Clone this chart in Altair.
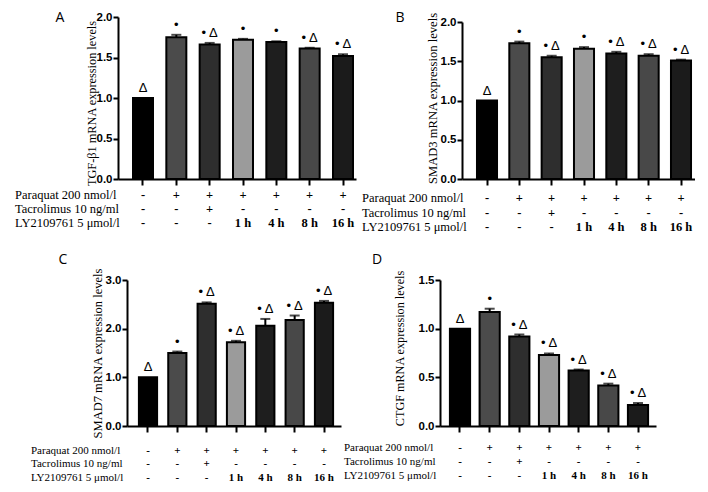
import altair as alt
import pandas as pd

groups = ["g1", "g2", "g3", "g4", "g5", "g6", "g7"]
bar_colors = ["#000000", "#4b4b4b", "#2e2e2e", "#9b9b9b", "#1e1e1e", "#484848", "#1b1b1b"]

row_labels = ["Paraquat 200 nmol/l", "Tacrolimus 10 ng/ml", "LY2109761 5 μmol/l"]
paraquat = ["-", "+", "+", "+", "+", "+", "+"]
tacrolimus = ["-", "-", "+", "-", "-", "-", "-"]
ly = ["-", "-", "-", "1 h", "4 h", "8 h", "16 h"]

# Panel A: TGF-β1
a_vals = [1.00, 1.75, 1.66, 1.72, 1.69, 1.61, 1.52]
a_errs = [0.00, 0.03, 0.02, 0.01, 0.01, 0.01, 0.02]
a_anno = ["Δ", "•", "• Δ", "•", "•", "• Δ", "• Δ"]
# Panel B: SMAD3
b_vals = [1.00, 1.73, 1.55, 1.66, 1.60, 1.57, 1.51]
b_errs = [0.00, 0.02, 0.02, 0.02, 0.02, 0.02, 0.01]
b_anno = ["Δ", "•", "• Δ", "•", "• Δ", "• Δ", "• Δ"]
# Panel C: SMAD7
c_vals = [1.00, 1.50, 2.51, 1.72, 2.06, 2.18, 2.53]
c_errs = [0.00, 0.03, 0.03, 0.03, 0.14, 0.09, 0.04]
c_anno = ["Δ", "•", "• Δ", "• Δ", "• Δ", "• Δ", "• Δ"]
# Panel D: CTGF
d_vals = [1.00, 1.17, 0.92, 0.73, 0.57, 0.415, 0.216]
d_errs = [0.00, 0.035, 0.02, 0.015, 0.01, 0.02, 0.02]
d_anno = ["Δ", "•", "• Δ", "• Δ", "• Δ", "• Δ", "• Δ"]

SERIF = "Liberation Serif"
SANS = "Liberation Sans"


def panel(vals, errs, annos, ymax, ticks, title, letter, L):
    df = pd.DataFrame({"g": groups, "v": vals, "e": errs,
                       "top": [v + e for v, e in zip(vals, errs)],
                       "a": annos, "col": bar_colors,
                       "p": paraquat, "t": tacrolimus, "l": ly})
    ox, oy = L["ox"], L["oy"]
    W, H = L["w"], L["h"]
    CW, CH = ox + W, oy + H
    s = (L["c1"] - L["c0"]) / 6.0
    pi = L["pi"]
    po = (W / s - (7 - pi)) / 2.0
    start = L["c0"] - (1 - pi) * s / 2.0
    align = start / (2 * po * s)
    xs = alt.Scale(domain=groups, paddingInner=pi, paddingOuter=po, align=align,
                   range=[ox, ox + W])
    X = alt.X("g:N", scale=xs, sort=groups,
              axis=alt.Axis(labels=False, title=None, domainColor="black", domainWidth=2,
                            tickColor="black", tickWidth=2, tickSize=6, grid=False))
    ys = alt.Scale(domain=[0, ymax], nice=False, zero=True, range=[CH, oy])
    Y = alt.Y("v:Q", scale=ys,
              axis=alt.Axis(values=ticks, format=".1f", title=title, grid=False,
                            offset=-ox,
                            domainColor="black", domainWidth=2, tickColor="black",
                            tickWidth=2, tickSize=5, labelFont=SANS, labelFontWeight="bold",
                            labelFontSize=11.5, labelColor="black", labelPadding=1,
                            titleFont=SERIF, titleFontSize=L["tfs"], titleFontWeight="normal",
                            titleColor="black", titleX=L["tx"], titleY=oy + L["ty"],
                            titleBaseline="middle", titleAngle=270))
    base = alt.Chart(df)
    xg = alt.X("g:N", sort=groups)
    bars = base.mark_bar(stroke="black", strokeWidth=2).encode(
        x=X, y=Y, color=alt.Color("col:N", scale=None))
    eb = base.transform_filter("datum.e > 0")
    rule = eb.mark_rule(color="black", strokeWidth=2).encode(x=xg, y="v:Q", y2="top:Q")
    cap = eb.mark_tick(color="black", thickness=2, size=10).encode(x=xg, y="top:Q")
    anno = base.mark_text(font=SANS, fontSize=13, dy=-10, color="black").encode(
        x=xg, y="top:Q", text="a:N")
    layers = [bars, rule, cap, anno]
    for field, dy in zip(["p", "t", "l"], L["rows"]):
        layers.append(base.mark_text(font=SERIF, fontSize=L["fs"], fontWeight="bold",
                                     baseline="middle", color="black").encode(
            x=xg, y=alt.value(CH + dy), text=f"{field}:N"))
    for lab, dy in zip(row_labels, L["rows"]):
        layers.append(alt.Chart(pd.DataFrame({"lab": [lab]})).mark_text(
            font=SERIF, fontSize=L["fs"], align="left", baseline="middle", color="black").encode(
            x=alt.value(ox + L["lx"]), y=alt.value(CH + dy), text="lab:N"))
    layers.append(alt.Chart(pd.DataFrame({"lab": [letter]})).mark_text(
        font="Open Sans", fontSize=14, align="center", baseline="middle", color="black").encode(
        x=alt.value(ox + L["kx"]), y=alt.value(oy + L["ky"]), text="lab:N"))
    return alt.layer(*layers).properties(width=CW, height=CH)


LA = dict(ox=0, oy=0, w=238, h=162, c0=25, c1=225, pi=0.40, tx=-27, ty=86, tfs=12.3,
          rows=[16, 30, 44], lx=-103, fs=12.5, kx=-58, ky=1)
LB = dict(ox=22, oy=5, w=233, h=157, c0=25, c1=219, pi=0.38, tx=-30, ty=76, tfs=12.6,
          rows=[19, 34, 48], lx=-100, fs=12.5, kx=-62, ky=-4)
LC = dict(ox=9, oy=0, w=214, h=146, c0=21, c1=197, pi=0.38, tx=-30, ty=73, tfs=12.5,
          rows=[25, 38, 52], lx=-96, fs=11, kx=-64, ky=-20)
LD = dict(ox=0, oy=0, w=216, h=146, c0=20, c1=198, pi=0.32, tx=-41, ty=68, tfs=12.2,
          rows=[22, 36, 50], lx=-96, fs=11, kx=-63, ky=-20)

pA = panel(a_vals, a_errs, a_anno, 2.0, [0, 0.5, 1.0, 1.5, 2.0], "TGF-β1 mRNA expression levels", "A", LA)
pB = panel(b_vals, b_errs, b_anno, 2.0, [0, 0.5, 1.0, 1.5, 2.0], "SMAD3  mRNA expression levels", "B", LB)
pC = panel(c_vals, c_errs, c_anno, 3.0, [0, 1.0, 2.0, 3.0], "SMAD7 mRNA expression levels", "C", LC)
pD = panel(d_vals, d_errs, d_anno, 1.5, [0, 0.5, 1.0, 1.5], "CTGF mRNA expression levels", "D", LD)

chart = alt.concat(pA, pB, pC, pD, columns=2, spacing={"row": 101, "column": 84},
                   bounds="flush", align="each").properties(
    padding={"left": 7, "top": 2, "right": 0, "bottom": 0},
    background="white"
).configure_view(stroke=None)

chart.save("out.html", embed_options={"renderer": "svg", "actions": False})
